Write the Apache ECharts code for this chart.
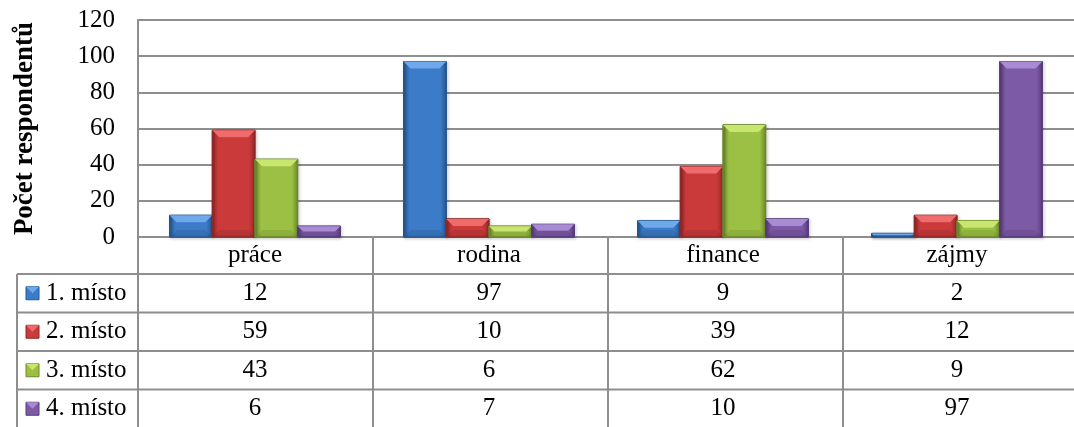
<!DOCTYPE html>
<html>
<head>
<meta charset="utf-8">
<script src="https://cdn.jsdelivr.net/npm/echarts@6/dist/echarts.min.js"></script>
<style>
  html, body { margin: 0; padding: 0; background: #fff; }
  #main { width: 1074px; height: 427px; }
</style>
</head>
<body>
<div id="main"></div>
<script>
// data
var categories = ['práce', 'rodina', 'finance', 'zájmy'];
var seriesNames = ['1. místo', '2. místo', '3. místo', '4. místo'];
var misto1 = [12, 97, 9, 2];
var misto2 = [59, 10, 39, 12];
var misto3 = [43, 6, 62, 9];
var misto4 = [6, 7, 10, 97];
var yTicks = [0, 20, 40, 60, 80, 100, 120];

var allValues = [misto1, misto2, misto3, misto4];

// barvy: zaklad, svetla, tmava
var palette = [
  { base: '#3b7bc8', light: '#6fa9ec', dark: '#27568f' },
  { base: '#cb3a3a', light: '#f06c6c', dark: '#8f2828' },
  { base: '#9cc044', light: '#c8e56e', dark: '#6c8a2b' },
  { base: '#7d5aa5', light: '#a98bd3', dark: '#573d7a' }
];

var FONT = '"Liberation Serif", "Times New Roman", serif';
var FS = 25;
var GRID_LEFT = 138, GRID_TOP = 20, GRID_W = 940, AXIS_Y = 237;
var ROW_TOP = 274, ROW_H = 38.5, LEG_LEFT = 17;
var LINE = '#8e8e8e';

var chart = echarts.init(document.getElementById('main'));

function faceGradient(c) {
  return new echarts.graphic.LinearGradient(0, 0, 1, 0, [
    { offset: 0, color: c.dark },
    { offset: 0.15, color: c.base },
    { offset: 0.85, color: c.base },
    { offset: 1, color: c.dark }
  ]);
}

// sloupec s "bevel" efektem
function bevelShape(x, y, w, h, c) {
  var b = Math.min(7, h / 2, w / 2);
  return [
    { type: 'rect', shape: { x: x, y: y, width: w, height: h },
      style: { fill: faceGradient(c), stroke: c.dark, lineWidth: 1,
               shadowBlur: 3, shadowColor: 'rgba(0,0,0,0.35)', shadowOffsetX: 1, shadowOffsetY: 1 } },
    { type: 'polygon', shape: { points: [[x, y], [x + w, y], [x + w - b, y + b], [x + b, y + b]] },
      style: { fill: c.light } },
    { type: 'polygon', shape: { points: [[x, y + h], [x + w, y + h], [x + w - b, y + h - b], [x + b, y + h - b]] },
      style: { fill: c.dark, opacity: 0.3 } }
  ];
}

function makeRender(k) {
  return function (params, api) {
    var idx = api.value(0);
    var val = api.value(1);
    var base = api.coord([idx, 0]);
    var top = api.coord([idx, val]);
    var catW = api.size([1, 0])[0];
    var bw = catW * (1 - 0.27) / 4;
    var x = base[0] + (k - 2) * bw;
    var h = base[1] - top[1];
    return { type: 'group', children: bevelShape(x, top[1], bw, h, palette[k]) };
  };
}

var series = allValues.map(function (vals, k) {
  return {
    name: seriesNames[k],
    type: 'custom',
    renderItem: makeRender(k),
    encode: { x: 0, y: 1 },
    data: vals.map(function (v, i) { return [i, v]; }),
    z: 3
  };
});

chart.setOption({
  animation: false,
  grid: { left: GRID_LEFT, top: GRID_TOP, width: GRID_W, height: AXIS_Y - GRID_TOP },
  xAxis: {
    type: 'category',
    data: categories,
    axisTick: { show: false },
    axisLine: { lineStyle: { color: LINE, width: 2 } },
    axisLabel: { color: '#000', fontSize: FS, fontFamily: FONT, margin: 6 }
  },
  yAxis: {
    type: 'value',
    min: yTicks[0],
    max: yTicks[yTicks.length - 1],
    interval: 20,
    name: 'Počet respondentů',
    nameLocation: 'middle',
    nameRotate: 90,
    nameGap: 99,
    nameTextStyle: { color: '#000', fontSize: 27, fontWeight: 'bold', fontFamily: FONT },
    axisLine: { show: true, lineStyle: { color: LINE, width: 2 } },
    axisTick: { show: false },
    axisLabel: { color: '#000', fontSize: FS, fontFamily: FONT, margin: 23 },
    splitLine: { lineStyle: { color: LINE, width: 2 } }
  },
  series: series
});

// tabulka dat pod grafem
var g = [];
var tableBottom = 427;
var right = 1074;
function hline(x1, x2, y) {
  g.push({ type: 'line', shape: { x1: x1, y1: y, x2: x2, y2: y }, style: { stroke: LINE, lineWidth: 2 } });
}
function vline(x, y1, y2) {
  g.push({ type: 'line', shape: { x1: x, y1: y1, x2: x, y2: y2 }, style: { stroke: LINE, lineWidth: 2 } });
}
var catW = GRID_W / categories.length;
for (var i = 0; i <= categories.length; i++) {
  var xb = GRID_LEFT + i * catW;
  vline(xb, i === 0 ? GRID_TOP : AXIS_Y, tableBottom);
}
vline(LEG_LEFT, ROW_TOP, tableBottom);
for (var r = 0; r < seriesNames.length; r++) {
  hline(LEG_LEFT, right, ROW_TOP + r * ROW_H);
}
seriesNames.forEach(function (name, k) {
  var cy = ROW_TOP + k * ROW_H + ROW_H / 2;
  var c = palette[k];
  // klic legendy
  var kx = 26, ks = 13, ky = cy - ks / 2;
  g.push({ type: 'rect', shape: { x: kx, y: ky, width: ks, height: ks },
           style: { fill: c.base, stroke: c.dark, lineWidth: 1 } });
  g.push({ type: 'polygon', shape: { points: [[kx, ky], [kx + ks, ky], [kx + ks / 2, ky + ks / 2]] },
           style: { fill: c.light } });
  g.push({ type: 'text', x: 46, y: cy,
           style: { text: name, fill: '#000', fontSize: FS, fontFamily: FONT, verticalAlign: 'middle', align: 'left' } });
  allValues[k].forEach(function (v, i) {
    var px = chart.convertToPixel({ xAxisIndex: 0 }, i);
    g.push({ type: 'text', x: px, y: cy,
             style: { text: String(v), fill: '#000', fontSize: FS, fontFamily: FONT, verticalAlign: 'middle', align: 'center' } });
  });
});
chart.setOption({ graphic: { elements: g } });
</script>
</body>
</html>
